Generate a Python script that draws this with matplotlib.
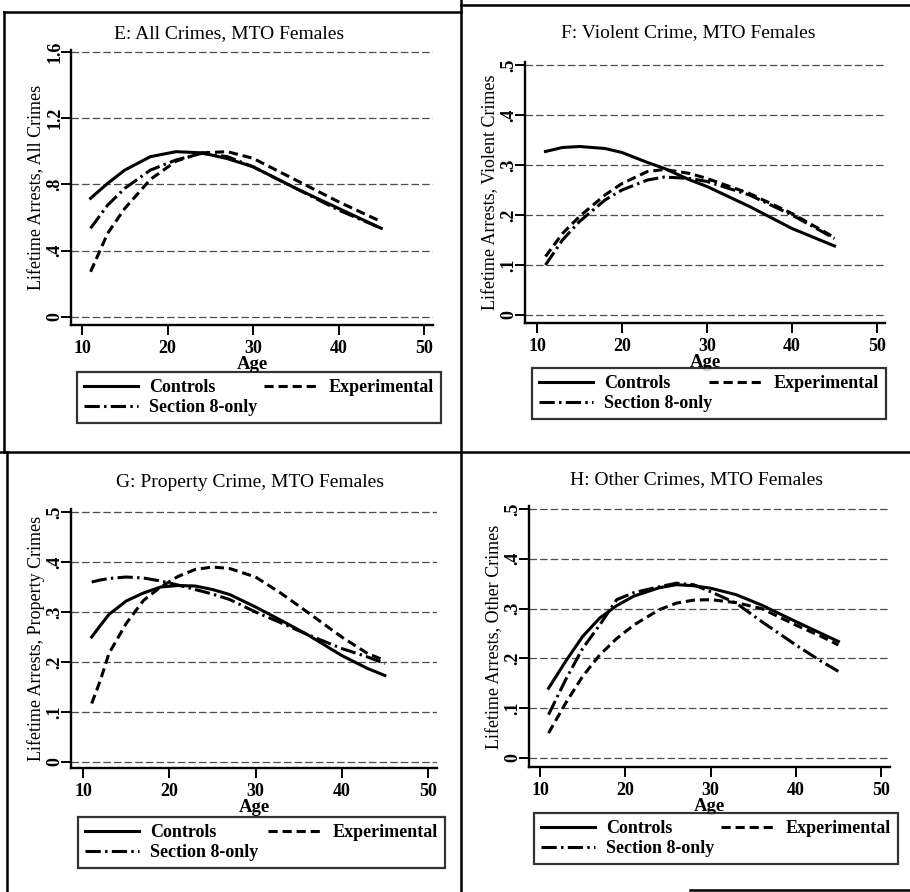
import matplotlib
matplotlib.use("Agg")
import matplotlib.pyplot as plt
from matplotlib.lines import Line2D

plt.rcParams['font.family'] = ['Liberation Serif', 'DejaVu Serif']

# ages (each curve runs age 11 to 45)
age_e = [11, 13, 15, 18, 21, 24, 27, 30, 35, 40, 45]
age_f = [11, 13, 15, 18, 20, 23, 25, 28, 30, 35, 40, 45]
age_g = [11, 12, 13, 15, 17, 19, 21, 23, 25, 27, 30, 33, 36, 40, 43, 45]
age_h = [11, 13, 15, 17, 19, 21, 24, 26, 28, 30, 33, 36, 40, 43, 45]

# E: all crimes
all_ctrl = [0.716, 0.806, 0.886, 0.967, 0.997, 0.99, 0.955, 0.906, 0.776, 0.655, 0.535]
all_exp = [0.273, 0.505, 0.655, 0.83, 0.94, 0.99, 0.997, 0.957, 0.826, 0.695, 0.575]
all_s8 = [0.535, 0.675, 0.776, 0.886, 0.947, 0.987, 0.967, 0.906, 0.776, 0.645, 0.535]

# F: violent crime
vio_ctrl = [0.327, 0.335, 0.337, 0.333, 0.325, 0.305, 0.293, 0.27, 0.257, 0.217, 0.173, 0.138]
vio_exp = [0.117, 0.163, 0.197, 0.24, 0.263, 0.287, 0.291, 0.283, 0.273, 0.243, 0.203, 0.155]
vio_s8 = [0.1, 0.15, 0.187, 0.23, 0.25, 0.27, 0.276, 0.273, 0.267, 0.24, 0.2, 0.153]

# G: property crime
prop_ctrl = [0.25, 0.273, 0.295, 0.322, 0.338, 0.35, 0.353, 0.352, 0.345, 0.335, 0.31, 0.283, 0.255, 0.213, 0.187, 0.173]
prop_exp = [0.117, 0.163, 0.217, 0.277, 0.323, 0.35, 0.371, 0.385, 0.39, 0.387, 0.37, 0.337, 0.3, 0.25, 0.217, 0.203]
prop_s8 = [0.36, 0.364, 0.367, 0.37, 0.368, 0.362, 0.354, 0.345, 0.336, 0.325, 0.3, 0.278, 0.255, 0.227, 0.21, 0.197]

# H: other crimes
oth_ctrl = [0.14, 0.194, 0.244, 0.281, 0.306, 0.325, 0.342, 0.348, 0.346, 0.341, 0.328, 0.307, 0.274, 0.25, 0.234]
oth_exp = [0.05, 0.11, 0.164, 0.207, 0.24, 0.267, 0.298, 0.311, 0.317, 0.318, 0.312, 0.3, 0.267, 0.244, 0.227]
oth_s8 = [0.087, 0.157, 0.22, 0.267, 0.318, 0.332, 0.344, 0.351, 0.348, 0.334, 0.311, 0.274, 0.227, 0.194, 0.174]

xticks = [10, 20, 30, 40, 50]
yt_all = [0, 0.4, 0.8, 1.2, 1.6]
yl_all = ['0', '.4', '.8', '1.2', '1.6']
yt_sub = [0, 0.1, 0.2, 0.3, 0.4, 0.5]
yl_sub = ['0', '.1', '.2', '.3', '.4', '.5']

W, H = 910, 892
fig = plt.figure(figsize=(9.1, 8.92), dpi=100)

ls_exp = (0, (3, 1.6))
ls_s8 = (0, (5, 1.4, 0.8, 1.4))


def panel(px, xlim, ylim, title, tpos, ylab, age, ctrl, exp, s8, yt, yl, leg):
    l, r, b, t = px
    ax = fig.add_axes([l / W, 1 - b / H, (r - l) / W, (b - t) / H])
    for v in yt:
        ax.axhline(v, color='0.3', lw=0.9, ls=(0, (6, 2.5)), zorder=1)
    c1, = ax.plot(age, ctrl, color='black', lw=2.2, ls='-', zorder=3)
    c2, = ax.plot(age, exp, color='black', lw=2.2, ls=ls_exp, zorder=3)
    c3, = ax.plot(age, s8, color='black', lw=2.2, ls=ls_s8, zorder=3)
    ax.set_xlim(*xlim)
    ax.set_ylim(*ylim)
    ax.set_xticks(xticks)
    ax.set_yticks(yt)
    ax.set_yticklabels(yl, rotation=90, va='center')
    ax.tick_params(labelsize=13, length=7, width=1.4, direction='out')
    ax.tick_params(axis='x', pad=4)
    ax.tick_params(axis='y', pad=-1.5)
    for lab in ax.get_xticklabels() + ax.get_yticklabels():
        lab.set_fontweight('bold')
    for s in ['top', 'right']:
        ax.spines[s].set_visible(False)
    for s in ['left', 'bottom']:
        ax.spines[s].set_linewidth(1.7)
    fig.text(tpos[0] / W, 1 - tpos[1] / H, title, fontsize=14,
             ha='center', va='center')
    ax.set_ylabel(ylab, fontsize=13, labelpad=1)
    ax.set_xlabel('Age', fontsize=13.5, fontweight='bold', labelpad=-1)
    lx0, lx1, ly0, ly1 = leg
    lg = ax.legend([c1, c3, c2], ['Controls', 'Section 8-only', 'Experimental'],
                   ncol=2, loc='upper left', mode='expand',
                   bbox_to_anchor=(lx0 / W, 1 - ly0 / H, (lx1 - lx0) / W, 0),
                   bbox_transform=fig.transFigure,
                   prop={'size': 13, 'weight': 'bold'},
                   handlelength=3.0, handletextpad=0.6, labelspacing=0.15,
                   borderpad=0.4, columnspacing=1.0, fancybox=False,
                   frameon=True, borderaxespad=0)
    lg.get_frame().set_edgecolor('black')
    lg.get_frame().set_linewidth(1.6)
    return ax


panel((71, 433, 325, 50), (8.71, 51.05), (-0.048, 1.61),
      'E: All Crimes, MTO Females', (229, 34), 'Lifetime Arrests, All Crimes',
      age_e, all_ctrl, all_exp, all_s8, yt_all, yl_all, (77, 441, 372, 423))
panel((525, 885, 323, 62), (8.59, 50.94), (-0.016, 0.506),
      'F: Violent Crime, MTO Females', (688, 33), 'Lifetime Arrests, Violent Crimes',
      age_f, vio_ctrl, vio_exp, vio_s8, yt_sub, yl_sub, (532, 886, 368, 421))
panel((71, 437, 768, 509), (8.6, 51.05), (-0.012, 0.506),
      'G: Property Crime, MTO Females', (250, 483), 'Lifetime Arrests, Property Crimes',
      age_g, prop_ctrl, prop_exp, prop_s8, yt_sub, yl_sub, (78, 445, 817, 867))
panel((529, 890, 767, 506), (8.71, 51.05), (-0.018, 0.506),
      'H: Other Crimes, MTO Females', (696, 480), 'Lifetime Arrests, Other Crimes',
      age_h, oth_ctrl, oth_exp, oth_s8, yt_sub, yl_sub, (534, 898, 813, 864))

# panel frame lines of the scanned page
frame = [((4, 12), (461, 12)), ((461, 5), (910, 5)), ((4, 12), (4, 452)),
         ((461, 0), (461, 892)), ((0, 452), (910, 452)), ((7, 452), (7, 892)),
         ((690, 890), (910, 890))]
for (x0, y0), (x1, y1) in frame:
    fig.add_artist(Line2D([x0 / W, x1 / W], [1 - y0 / H, 1 - y1 / H],
                          color='black', lw=1.8, transform=fig.transFigure))

fig.savefig('out.png', dpi=100)
